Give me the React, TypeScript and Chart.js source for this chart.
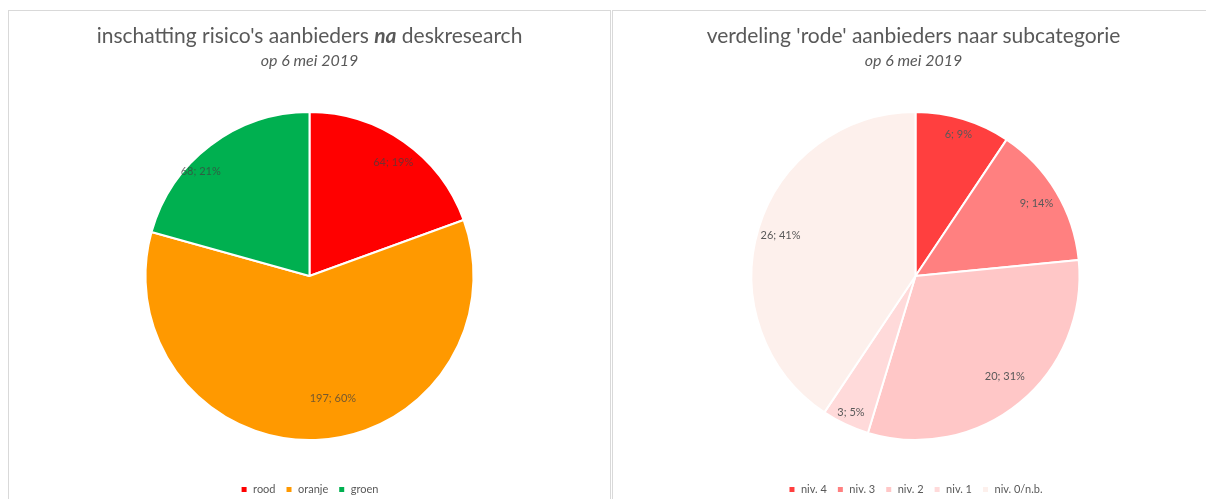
import React, { useEffect, useRef } from "react";
import { Chart, registerables } from "chart.js";

Chart.register(...registerables);

const leftCategories = ["rood", "oranje", "groen"];
const leftValues = [64, 197, 68];
const leftColors = ["#FF0000", "#FF9900", "#00B050"];
const leftLabelRadius = [0.86, 0.76, 0.92];
const leftLabelAngle = [0.52, 0.46, 0.38];

const rightCategories = ["niv. 4", "niv. 3", "niv. 2", "niv. 1", "niv. 0/n.b."];
const rightValues = [6, 9, 20, 3, 26];
const rightColors = ["#FF3F3F", "#FF8080", "#FFC7C7", "#FFDADA", "#FDF0EC"];
const rightLabelRadius = [0.9, 0.86, 0.82, 0.92, 0.86];
const rightLabelAngle = [0.5, 0.5, 0.48, 0.5, 0.5];

const FONT = "Lato, 'Open Sans', sans-serif";

const labelPlugin = (color: string, factors: number[], angles: number[]) => ({
  id: "sliceLabels",
  afterDatasetsDraw(chart: any) {
    const ctx = chart.ctx;
    const meta = chart.getDatasetMeta(0);
    const data = chart.data.datasets[0].data as number[];
    const total = data.reduce((a, b) => a + b, 0);
    ctx.save();
    ctx.font = `11px ${FONT}`;
    ctx.fillStyle = color;
    ctx.textAlign = "center";
    ctx.textBaseline = "middle";
    meta.data.forEach((arc: any, i: number) => {
      const p = arc.getProps(["startAngle", "endAngle", "outerRadius", "x", "y"], true);
      const a = p.startAngle + (p.endAngle - p.startAngle) * angles[i];
      const r = p.outerRadius * factors[i];
      const x = p.x + Math.cos(a) * r;
      const y = p.y + Math.sin(a) * r;
      const pct = Math.round((data[i] / total) * 100);
      ctx.fillText(`${data[i]}; ${pct}%`, x, y);
    });
    ctx.restore();
  },
});

function PieChart(props: {
  labels: string[];
  values: number[];
  colors: string[];
  labelColor: string;
  labelRadius: number[];
  labelAngle: number[];
  padLeft: number;
}) {
  const ref = useRef<HTMLCanvasElement>(null);
  useEffect(() => {
    const chart = new Chart(ref.current!, {
      type: "pie",
      data: {
        labels: props.labels,
        datasets: [
          {
            data: props.values,
            backgroundColor: props.colors,
            borderColor: "#FFFFFF",
            borderWidth: 2,
            radius: 164,
          },
        ],
      },
      options: {
        animation: false,
        responsive: false,
        layout: { padding: { top: 67, bottom: 0, left: props.padLeft, right: 0 } },
        plugins: {
          tooltip: { enabled: false },
          legend: {
            position: "bottom",
            labels: {
              boxWidth: 7,
              boxHeight: 7,
              padding: 10,
              color: "#595959",
              font: { size: 11, family: FONT },
            },
          },
        },
      },
      plugins: [labelPlugin(props.labelColor, props.labelRadius, props.labelAngle)],
    });
    return () => chart.destroy();
  }, []);
  return <canvas ref={ref} width={601} height={494} style={{ display: "block" }} />;
}

const panelStyle: React.CSSProperties = {
  position: "absolute",
  top: 2,
  height: 520,
  boxSizing: "border-box",
  border: "1px solid #D9D9D9",
  background: "#fff",
};

const titleStyle: React.CSSProperties = {
  position: "absolute",
  left: 0,
  width: 601,
  top: 11,
  textAlign: "center",
  fontFamily: FONT,
  fontSize: 21,
  color: "#595959",
  lineHeight: "26px",
  whiteSpace: "nowrap",
};

const subStyle: React.CSSProperties = {
  position: "absolute",
  left: 0,
  width: 601,
  top: 39,
  textAlign: "center",
  fontFamily: FONT,
  fontSize: 16,
  fontStyle: "italic",
  color: "#595959",
  lineHeight: "20px",
};

export default function App() {
  return (
    <div style={{ position: "relative", width: 1206, height: 491, overflow: "hidden", background: "#fff" }}>
      <div style={{ ...panelStyle, left: 0, width: 603 }}>
        <PieChart
          labels={leftCategories}
          values={leftValues}
          colors={leftColors}
          labelColor="rgba(64,64,64,0.72)"
          labelRadius={leftLabelRadius}
          labelAngle={leftLabelAngle}
          padLeft={0}
        />
        <div style={titleStyle}>
          inschatting risico's aanbieders <b><i>na</i></b> deskresearch
        </div>
        <div style={subStyle}>op 6 mei 2019</div>
      </div>
      <div style={{ ...panelStyle, left: 604, width: 640 }}>
        <PieChart
          labels={rightCategories}
          values={rightValues}
          colors={rightColors}
          labelColor="#595959"
          labelRadius={rightLabelRadius}
          labelAngle={rightLabelAngle}
          padLeft={4}
        />
        <div style={titleStyle}>verdeling 'rode' aanbieders naar subcategorie</div>
        <div style={subStyle}>op 6 mei 2019</div>
      </div>
    </div>
  );
}
